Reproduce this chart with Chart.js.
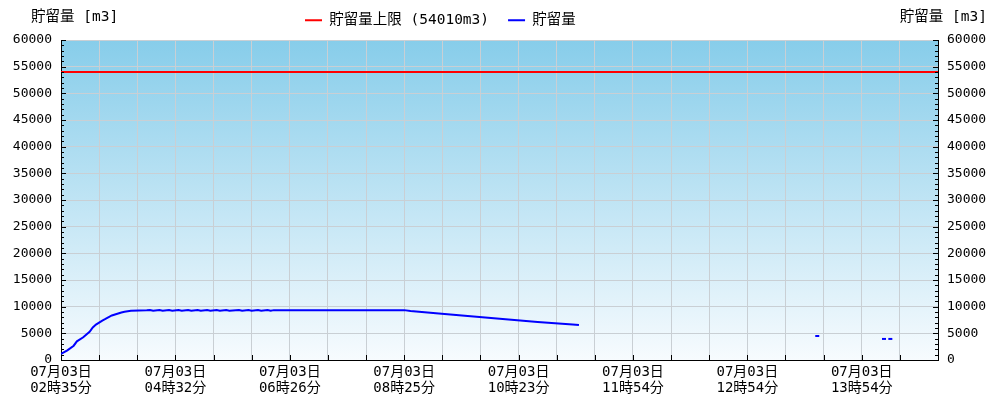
<!DOCTYPE html>
<html>
<head>
<meta charset="utf-8">
<script src="https://cdn.jsdelivr.net/npm/chart.js@4/dist/chart.umd.min.js"></script>
<style>
  html, body { margin: 0; padding: 0; background: #fff; }
</style>
</head>
<body>
<canvas id="storageChart" width="1000" height="400"></canvas>
<script>
// tick labels (one every 3 grid steps)
const dateLabels = ['07月03日', '07月03日', '07月03日', '07月03日', '07月03日', '07月03日', '07月03日', '07月03日']
const timeLabels = ['02時35分', '04時32分', '06時26分', '08時25分', '10時23分', '11時54分', '12時54分', '13時54分']

const STORAGE_LIMIT = 54010
const AXIS_TITLE = '貯留量 [m3]'

// sample index -> stored volume (m3), null = no data
const sampleIdx = [
  0, 2, 4, 5, 7, 8, 9, 10, 11, 13, 14, 16, 19, 20, 22, 27,
  28, 29, 31, 32, 34, 35, 37, 38, 40, 41, 43, 44, 46, 47, 49, 50, 52, 53, 56, 57, 59, 60, 62, 63, 65, 66, 67,
  108, 110, 118, 128, 139, 150, 161, 163,
  164, 238, 239, 259, 260, 261
]
const storage = [
  1125, 1800, 2680, 3500, 4260, 4800, 5300, 6100, 6650, 7400, 7700, 8350, 8900, 9060, 9240, 9320,
  9380, 9250, 9380, 9250, 9380, 9250, 9380, 9250, 9380, 9250, 9380, 9250, 9380, 9250, 9380, 9250, 9380, 9250, 9380, 9250, 9380, 9250, 9380, 9250, 9380, 9250, 9350,
  9350, 9190, 8760, 8250, 7690, 7125, 6640, 6560,
  null, 4500, null, 3950, null, 3950
]

const X_MAX = 276
const X_STEP = 12
const LABEL_EVERY = 36

const FONT = "'DejaVu Sans Mono', 'Noto Sans CJK JP', monospace"

const chartDeco = {
  id: 'chartDeco',
  beforeInit(chart) {
    const fit = chart.legend.fit
    chart.legend.fit = function() {
      fit.bind(chart.legend)()
      this.height = 40
    }
  },
  beforeDraw(chart) {
    const { ctx, chartArea: a } = chart
    const g = ctx.createLinearGradient(0, a.top, 0, a.bottom)
    g.addColorStop(0, '#87cdea')
    g.addColorStop(1, '#f7fbfe')
    ctx.save()
    ctx.fillStyle = g
    ctx.fillRect(a.left, a.top, a.right - a.left, a.bottom - a.top)
    ctx.restore()
    // legend sits left of centre in the original
    chart.legend.left = 286
    chart.legend.top = -6
  },
  afterDraw(chart) {
    const { ctx, chartArea: a, scales } = chart
    ctx.save()
    ctx.strokeStyle = '#000'
    ctx.lineWidth = 1
    ctx.beginPath()
    // inward ticks on both y axes
    for (let v = 0; v <= 60000; v += 1000) {
      const y = Math.round(scales.y.getPixelForValue(v)) + 0.5
      const len = v % 5000 === 0 ? 5 : 3
      ctx.moveTo(a.left, y); ctx.lineTo(a.left + len, y)
      ctx.moveTo(a.right, y); ctx.lineTo(a.right - len, y)
    }
    // inward ticks on x axis
    for (let v = 0; v <= X_MAX; v += X_STEP) {
      const x = Math.round(scales.x.getPixelForValue(v)) + 0.5
      ctx.moveTo(x, a.bottom); ctx.lineTo(x, a.bottom - 5)
    }
    ctx.stroke()

    ctx.fillStyle = '#000'
    ctx.font = '14.5px ' + FONT
    ctx.textBaseline = 'middle'
    ctx.textAlign = 'left'
    ctx.fillText(AXIS_TITLE, 31, 17)
    ctx.textAlign = 'right'
    ctx.fillText(AXIS_TITLE, 987, 17)
    ctx.restore()
  }
}

const isolated = i => storage[i] != null && storage[i - 1] == null && storage[i + 1] == null

const ctx = document.getElementById('storageChart').getContext('2d')
const chart = new Chart(ctx, {
  type: 'line',
  data: {
    datasets: [
      {
        label: `貯留量上限 (${STORAGE_LIMIT}m3)`,
        data: [{ x: 0, y: STORAGE_LIMIT }, { x: X_MAX, y: STORAGE_LIMIT }],
        borderColor: '#ff0000',
        backgroundColor: '#ff0000',
        borderWidth: 2,
        pointRadius: 0
      },
      {
        label: '貯留量',
        data: sampleIdx.map((x, i) => ({ x, y: storage[i] })),
        borderColor: '#0000ff',
        backgroundColor: '#0000ff',
        borderWidth: 2,
        pointStyle: 'line',
        pointBorderWidth: 2,
        pointBorderColor: '#0000ff',
        pointRadius: c => isolated(c.dataIndex) ? 2 : 0,
        spanGaps: false
      }
    ]
  },
  options: {
    responsive: false,
    animation: false,
    devicePixelRatio: 1,
    layout: { padding: 0 },
    plugins: {
      tooltip: { enabled: false },
      legend: {
        position: 'top',
        align: 'start',
        labels: {
          usePointStyle: true,
          pointStyle: 'line',
          pointStyleWidth: 17,
          padding: 19,
          color: '#000',
          font: { family: FONT, size: 14.5 }
        }
      }
    },
    scales: {
      x: {
        type: 'linear',
        min: 0,
        max: X_MAX,
        afterFit(scale) { scale.height = 40 },
        grid: { color: '#c9cfd4', drawTicks: false },
        border: { color: '#000', width: 1 },
        ticks: {
          stepSize: X_STEP,
          autoSkip: false,
          maxRotation: 0,
          padding: 5,
          color: '#000',
          font: { family: FONT, size: 14, lineHeight: 1.1 },
          callback: v => {
            if (v % LABEL_EVERY !== 0) return ''
            const k = v / LABEL_EVERY
            return k < dateLabels.length ? [dateLabels[k], timeLabels[k]] : ''
          }
        }
      },
      y: {
        position: 'left',
        min: 0,
        max: 60000,
        afterFit(scale) { scale.width = 61 },
        grid: { color: '#c9cfd4', drawTicks: false },
        border: { color: '#000', width: 1 },
        ticks: {
          stepSize: 5000,
          padding: 9,
          color: '#000',
          font: { family: FONT, size: 13 },
          callback: v => String(v)
        }
      },
      y2: {
        position: 'right',
        min: 0,
        max: 60000,
        afterFit(scale) { scale.width = 62 },
        grid: { drawOnChartArea: false, drawTicks: false },
        border: { color: '#000', width: 1 },
        ticks: {
          stepSize: 5000,
          padding: 9,
          color: '#000',
          font: { family: FONT, size: 13 },
          callback: v => String(v)
        }
      }
    }
  },
  plugins: [chartDeco]
})
</script>
</body>
</html>
